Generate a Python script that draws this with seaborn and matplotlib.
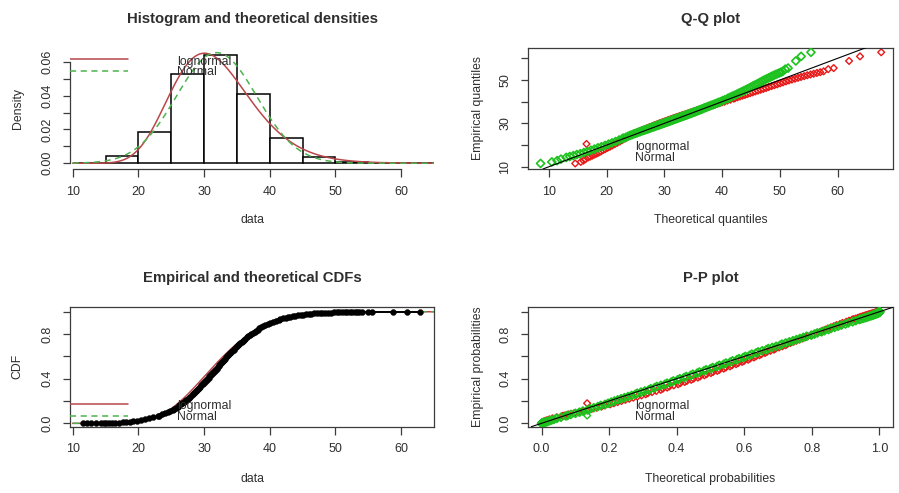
import math
from statistics import NormalDist

import numpy as np
import pandas as pd
import matplotlib
matplotlib.use("Agg")
import matplotlib.pyplot as plt
import seaborn as sns

# histogram of the sample (density scale)
bin_edges = [10, 15, 20, 25, 30, 35, 40, 45, 50, 55, 60, 65]
bin_density = [0.0004, 0.0045, 0.0182, 0.0528, 0.0642, 0.0410,
               0.0150, 0.0039, 0.0009, 0.0002, 0.0001]

# fitted distributions
fit_names = ["lognormal", "Normal"]
norm_mean, norm_sd = 31.9, 6.1
lnorm_meanlog, lnorm_sdlog = 3.443, 0.20

# empirical quantiles of the sample at their plotting positions
emp_prob = [
    0.0000641, 0.000224, 0.000390, 0.000577,
    0.000968, 0.00135, 0.00187, 0.00256, 0.00347, 0.00466, 0.00621, 0.00820,
    0.01072, 0.01390, 0.01786, 0.02275, 0.02872, 0.03593, 0.04457, 0.05480, 0.06681,
    0.07, 0.08, 0.09, 0.10, 0.11, 0.12, 0.13, 0.14, 0.15, 0.16, 0.17, 0.18,
    0.19, 0.20, 0.21, 0.22, 0.23, 0.24, 0.25, 0.26, 0.27, 0.28, 0.29, 0.30,
    0.31, 0.32, 0.33, 0.34, 0.35, 0.36, 0.37, 0.38, 0.39, 0.40, 0.41, 0.42,
    0.43, 0.44, 0.45, 0.46, 0.47, 0.48, 0.49, 0.50,
    0.51, 0.52, 0.53, 0.54, 0.55, 0.56, 0.57, 0.58, 0.59, 0.60, 0.61, 0.62,
    0.63, 0.64, 0.65, 0.66, 0.67, 0.68, 0.69, 0.70, 0.71, 0.72, 0.73, 0.74,
    0.75, 0.76, 0.77, 0.78, 0.79, 0.80, 0.81, 0.82, 0.83, 0.84, 0.85, 0.86,
    0.87, 0.88, 0.89, 0.90, 0.91, 0.92, 0.93,
    0.93319, 0.93943, 0.94520, 0.95053, 0.95543, 0.95994, 0.96407, 0.96784,
    0.97128, 0.97441, 0.97725, 0.97982, 0.98214, 0.98422, 0.98610, 0.98778,
    0.98928, 0.99061, 0.99180, 0.99286, 0.99379, 0.99461, 0.99534, 0.99598,
    0.99653, 0.99702, 0.99744, 0.99781, 0.99813, 0.99841, 0.99865, 0.99886,
    0.999096, 0.999313, 0.999687, 0.999822, 0.999941,
]
emp_quant = [
    11.5, 12.2, 12.8, 13.5,
    14.3, 14.7, 15.1, 15.6, 16.0, 16.5, 17.0, 17.6,
    18.1, 18.7, 19.2, 19.8, 20.4, 21.0, 21.6, 22.3, 23.0,
    23.2, 23.6, 24.1, 24.5, 24.8, 25.2, 25.4, 25.7, 26.0, 26.2, 26.5, 26.7,
    26.9, 27.1, 27.3, 27.5, 27.7, 27.9, 28.1, 28.3, 28.4, 28.6, 28.8, 29.0,
    29.1, 29.3, 29.4, 29.6, 29.8, 29.9, 30.1, 30.2, 30.4, 30.5, 30.7, 30.8,
    31.0, 31.1, 31.3, 31.4, 31.6, 31.7, 31.9, 32.0,
    32.2, 32.3, 32.5, 32.6, 32.8, 32.9, 33.1, 33.2, 33.4, 33.5, 33.7, 33.8,
    34.0, 34.1, 34.3, 34.5, 34.6, 34.8, 35.0, 35.2, 35.3, 35.5, 35.7, 35.9,
    36.1, 36.3, 36.5, 36.7, 37.0, 37.2, 37.4, 37.7, 37.9, 38.2, 38.4, 38.7,
    39.0, 39.3, 39.7, 40.0, 40.5, 40.9, 41.4,
    41.6, 42.0, 42.4, 42.75, 43.1, 43.5, 43.9, 44.3,
    44.7, 45.1, 45.5, 45.9, 46.3, 46.75, 47.2, 47.6,
    48.0, 48.45, 48.9, 49.35, 49.8, 50.2, 50.6, 51.0,
    51.4, 51.8, 52.2, 52.55, 52.9, 53.25, 53.6, 54.0,
    55.0, 55.5, 58.8, 60.9, 62.8,
]
assert len(emp_prob) == len(emp_quant)

# stray points visible in the Q-Q and P-P panels
odd_qq_lnorm_x, odd_qq_lnorm_y = [16.5], [20.5]
odd_pp_x = [0.135]
odd_pp_lnorm_y, odd_pp_norm_y = [0.18], [0.07]

LN_LINE, N_LINE = "#B8474A", "#4DB34D"
LN_PT, N_PT = "#E81818", "#1EC21E"
TEXT_COL, AXIS_COL = "#2e2e2e", "#3c3c3c"
FS = 8.8

sns.set_style("ticks")
plt.rcParams["font.family"] = ["Liberation Sans", "DejaVu Sans"]
plt.rcParams["text.color"] = TEXT_COL

nd = NormalDist(norm_mean, norm_sd)
ld = NormalDist(lnorm_meanlog, lnorm_sdlog)

q = np.array(emp_quant)
p = np.array(emp_prob)
qq = pd.DataFrame({
    "emp": q,
    "norm": [nd.inv_cdf(v) for v in p],
    "lnorm": [math.exp(ld.inv_cdf(v)) for v in p],
})
pp = pd.DataFrame({
    "emp": p,
    "norm": [nd.cdf(v) for v in q],
    "lnorm": [ld.cdf(math.log(v)) for v in q],
})

grid = np.linspace(10, 65, 400)
curves = pd.DataFrame({
    "x": grid,
    "dnorm": [nd.pdf(v) for v in grid],
    "dlnorm": [ld.pdf(math.log(v)) / v for v in grid],
    "pnorm": [nd.cdf(v) for v in grid],
    "plnorm": [ld.cdf(math.log(v)) for v in grid],
})

fig = plt.figure(figsize=(8.99, 4.93), dpi=100)
ax_h = fig.add_axes([0.0779, 0.6572, 0.4049, 0.2460])
ax_q = fig.add_axes([0.5873, 0.6572, 0.4060, 0.2460])
ax_c = fig.add_axes([0.0779, 0.1345, 0.4049, 0.2434])
ax_p = fig.add_axes([0.5873, 0.1345, 0.4060, 0.2434])


def style(ax, title, xlabel, ylabel, xl_y, yl_x):
    for sp in ax.spines.values():
        sp.set_color(AXIS_COL)
        sp.set_linewidth(0.9)
    ax.tick_params(direction="out", length=5.4, width=0.9, color=AXIS_COL,
                   labelsize=9.0, labelcolor=TEXT_COL, pad=6.5)
    for lab in ax.get_yticklabels():
        lab.set_rotation(90)
        lab.set_verticalalignment("center")
    ax.set_title(title, fontsize=10.7, fontweight="bold", pad=17.5, color=TEXT_COL)
    ax.set_xlabel(xlabel, fontsize=FS, color=TEXT_COL)
    ax.set_ylabel(ylabel, fontsize=FS, color=TEXT_COL)
    ax.xaxis.set_label_coords(0.5, xl_y)
    ax.yaxis.set_label_coords(yl_x, 0.5)


def legend_text(ax, ys, line_ys=None):
    for name, ty in zip(fit_names, ys):
        ax.text(0.293, ty, name, transform=ax.transAxes, ha="left", va="center",
                fontsize=FS, color=TEXT_COL, zorder=6)
    if line_ys:
        ax.plot([0, 0.16], [line_ys[0]] * 2, transform=ax.transAxes,
                color=LN_LINE, lw=1.1, zorder=6)
        ax.plot([0, 0.16], [line_ys[1]] * 2, transform=ax.transAxes,
                color=N_LINE, lw=1.1, ls=(0, (4, 3)), zorder=6)


def diamonds(ax, x, y, col, z, data=None, size=12, lw=1.0):
    sns.scatterplot(data=data, x=x, y=y, marker="D", s=size, color=col,
                    facecolor="none", edgecolor=col, linewidth=lw, ax=ax, zorder=z)


# --- Histogram and theoretical densities
mids = [(a + b) / 2 for a, b in zip(bin_edges[:-1], bin_edges[1:])]
sns.histplot(x=mids, weights=bin_density, bins=bin_edges, stat="count",
             color="white", edgecolor="black", linewidth=1.1, alpha=1, ax=ax_h)
sns.lineplot(data=curves, x="x", y="dlnorm", color=LN_LINE, lw=1.1, ax=ax_h, zorder=4)
sns.lineplot(data=curves, x="x", y="dnorm", color=N_LINE, lw=1.1,
             linestyle=(0, (4, 3)), ax=ax_h, zorder=4)
ax_h.set_xlim(9.6, 65.0)
ax_h.set_ylim(-0.0034, 0.0683)
ax_h.set_xticks([10, 20, 30, 40, 50, 60])
ax_h.set_yticks([0, 0.01, 0.02, 0.03, 0.04, 0.05, 0.06],
                ["0.00", "", "0.02", "", "0.04", "", "0.06"])
sns.despine(ax=ax_h)
ax_h.spines["left"].set_bounds(0, 0.06)
ax_h.spines["bottom"].set_bounds(10, 60)
style(ax_h, "Histogram and theoretical densities", "data", "Density", -0.371, -0.1255)
legend_text(ax_h, [0.885, 0.797], [0.904, 0.810])

# --- Q-Q plot
diamonds(ax_q, "lnorm", "emp", LN_PT, 2, qq)
diamonds(ax_q, odd_qq_lnorm_x, odd_qq_lnorm_y, LN_PT, 2)
diamonds(ax_q, "norm", "emp", N_PT, 3, qq, size=17, lw=1.2)
ax_q.axline((0, 0), slope=1, color="black", lw=0.8, zorder=4)
ax_q.set_xlim(6.36, 69.6)
ax_q.set_ylim(8.94, 64.9)
ax_q.set_xticks([10, 20, 30, 40, 50, 60])
ax_q.set_yticks([10, 20, 30, 40, 50, 60], ["10", "", "30", "", "50", ""])
style(ax_q, "Q-Q plot", "Theoretical quantiles", "Empirical quantiles", -0.371, -0.1205)
legend_text(ax_q, [0.184, 0.088])

# --- Empirical and theoretical CDFs
sns.lineplot(data=curves, x="x", y="plnorm", color=LN_LINE, lw=1.1, ax=ax_c, zorder=2)
sns.lineplot(data=curves, x="x", y="pnorm", color=N_LINE, lw=1.1,
             linestyle=(0, (4, 3)), ax=ax_c, zorder=2)
sns.lineplot(x=q, y=p, drawstyle="steps-post", color="black", lw=1.4, ax=ax_c, zorder=3)
sns.scatterplot(x=q, y=p, marker="o", s=18, color="black", edgecolor="black",
                linewidth=0.3, ax=ax_c, zorder=4)
ax_c.set_xlim(9.6, 65.0)
ax_c.set_ylim(-0.03, 1.045)
ax_c.set_xticks([10, 20, 30, 40, 50, 60])
ax_c.set_yticks([0, 0.2, 0.4, 0.6, 0.8, 1.0], ["0.0", "", "0.4", "", "0.8", ""])
style(ax_c, "Empirical and theoretical CDFs", "data", "CDF", -0.384, -0.127)
legend_text(ax_c, [0.175, 0.083], [0.187, 0.092])

# --- P-P plot
diamonds(ax_p, "lnorm", "emp", LN_PT, 2, pp)
diamonds(ax_p, odd_pp_x, odd_pp_lnorm_y, LN_PT, 2)
diamonds(ax_p, "norm", "emp", N_PT, 3, pp, size=17, lw=1.2)
diamonds(ax_p, odd_pp_x, odd_pp_norm_y, N_PT, 3)
ax_p.axline((0, 0), slope=1, color="black", lw=0.8, zorder=4)
ax_p.set_xlim(-0.04, 1.04)
ax_p.set_ylim(-0.03, 1.045)
ax_p.set_xticks([0, 0.2, 0.4, 0.6, 0.8, 1.0], ["0.0", "0.2", "0.4", "0.6", "0.8", "1.0"])
ax_p.set_yticks([0, 0.2, 0.4, 0.6, 0.8, 1.0], ["0.0", "", "0.4", "", "0.8", ""])
style(ax_p, "P-P plot", "Theoretical probabilities", "Empirical probabilities", -0.384, -0.1205)
legend_text(ax_p, [0.175, 0.083])

fig.savefig("out.png", dpi=100)
